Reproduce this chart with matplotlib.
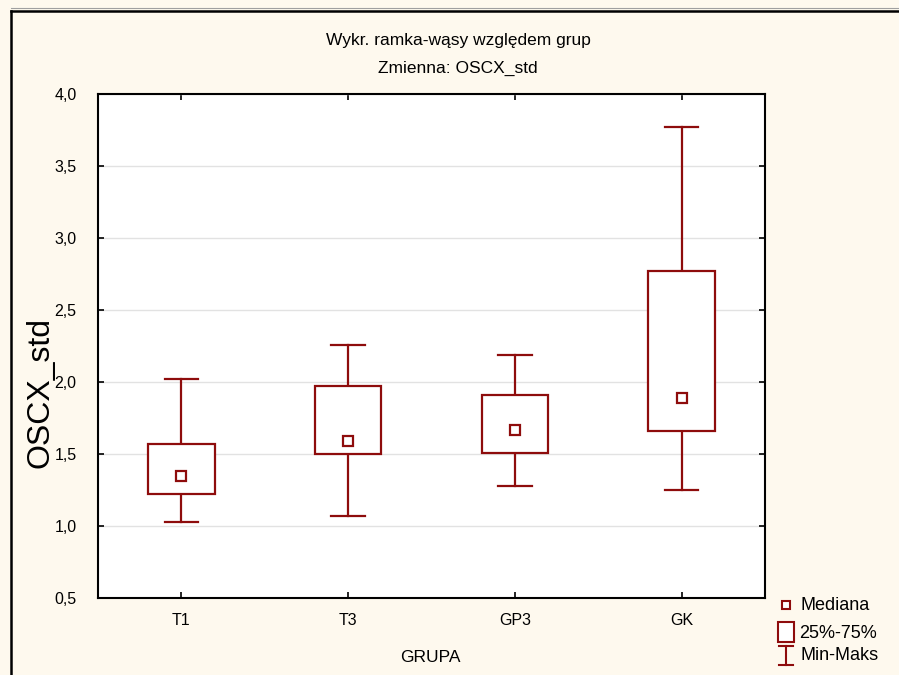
import numpy as np
import matplotlib.pyplot as plt
from matplotlib.lines import Line2D
from matplotlib.patches import Rectangle

plt.rcParams['font.family'] = ['Liberation Sans', 'DejaVu Sans']

# dane
grupy = ['T1', 'T3', 'GP3', 'GK']
minimum = [1.03, 1.07, 1.28, 1.25]
q25 = [1.22, 1.50, 1.51, 1.66]
mediana = [1.35, 1.59, 1.67, 1.89]
q75 = [1.57, 1.97, 1.91, 2.77]
maksimum = [2.02, 2.26, 2.19, 3.77]
y_ticks = [0.5, 1.0, 1.5, 2.0, 2.5, 3.0, 3.5, 4.0]

kolor = '#8E0C0C'
tlo = '#FEF9EE'

W, H = 899, 675
fig = plt.figure(figsize=(W / 100, H / 100), dpi=100, facecolor=tlo)

# ramka wokol calego wykresu
fig.add_artist(Line2D([11 / W, 11 / W], [0, 1 - 11 / H], color='black', lw=1.8))
fig.add_artist(Line2D([11 / W, 1], [1 - 11 / H, 1 - 11 / H], color='black', lw=1.8))
fig.add_artist(Line2D([11 / W, 1], [1 - 8 / H, 1 - 8 / H], color='#A0A0A0', lw=0.8))

ax = fig.add_axes([98 / W, 1 - 598 / H, (765 - 98) / W, (598 - 94) / H])
ax.set_facecolor('white')

x = np.arange(1, len(grupy) + 1)
for xi, mn, a, m, b, mx in zip(x, minimum, q25, mediana, q75, maksimum):
    ax.plot([xi, xi], [mn, a], color=kolor, lw=1.6, zorder=3)
    ax.plot([xi, xi], [b, mx], color=kolor, lw=1.6, zorder=3)
    ax.plot([xi - 0.1, xi + 0.1], [mn, mn], color=kolor, lw=1.6, zorder=3)
    ax.plot([xi - 0.1, xi + 0.1], [mx, mx], color=kolor, lw=1.6, zorder=3)
    ax.add_patch(Rectangle((xi - 0.2, a), 0.4, b - a, facecolor='white',
                           edgecolor=kolor, lw=1.6, zorder=3))
ax.plot(x, mediana, 's', ms=7, mfc='white', mec=kolor, mew=1.6, zorder=4, ls='none')

ax.set_xlim(0.5, 4.5)
ax.set_ylim(0.5, 4.0)
ax.set_xticks(x)
ax.set_xticklabels(grupy)
ax.set_yticks(y_ticks)
ax.set_yticklabels([f'{v:.1f}'.replace('.', ',') for v in y_ticks])
ax.grid(axis='y', color='#E2E2E2', lw=1.0, zorder=0)
ax.set_axisbelow(True)
ax.tick_params(axis='both', direction='in', length=4, width=1.2, labelsize=11.5,
               top=True, right=True, colors='black')
ax.tick_params(axis='y', pad=15.5)
ax.tick_params(axis='x', pad=11)
for s in ax.spines.values():
    s.set_linewidth(1.5)

fig.text(458 / W, 1 - 41 / H, 'Wykr. ramka-wąsy względem grup', ha='center', va='center', fontsize=12.5)
fig.text(458 / W, 1 - 68 / H, 'Zmienna: OSCX_std', ha='center', va='center', fontsize=12.5)
fig.text(41 / W, 1 - 392 / H, 'OSCX_std', rotation=90, ha='center', va='center', fontsize=23)
fig.text(430 / W, 1 - 657 / H, 'GRUPA', ha='center', va='center', fontsize=12.5)

# legenda
lg = fig.add_axes([0, 0, 1, 1], facecolor='none')
lg.set_xlim(0, W)
lg.set_ylim(H, 0)
lg.axis('off')
lg.plot([786], [605], 's', ms=6, mfc='white', mec=kolor, mew=1.5)
lg.add_patch(Rectangle((778, 622), 16, 20, facecolor='white', edgecolor=kolor, lw=1.5))
lg.plot([786, 786], [646, 665], color=kolor, lw=1.5)
lg.plot([779, 793], [646, 646], color=kolor, lw=1.5)
lg.plot([779, 793], [665, 665], color=kolor, lw=1.5)
lg.text(801, 605, 'Mediana', va='center', ha='left', fontsize=13)
lg.text(799, 633, '25%-75%', va='center', ha='left', fontsize=13)
lg.text(801, 656, 'Min-Maks', va='center', ha='left', fontsize=13)

fig.savefig('out.png', dpi=100, facecolor=tlo)
